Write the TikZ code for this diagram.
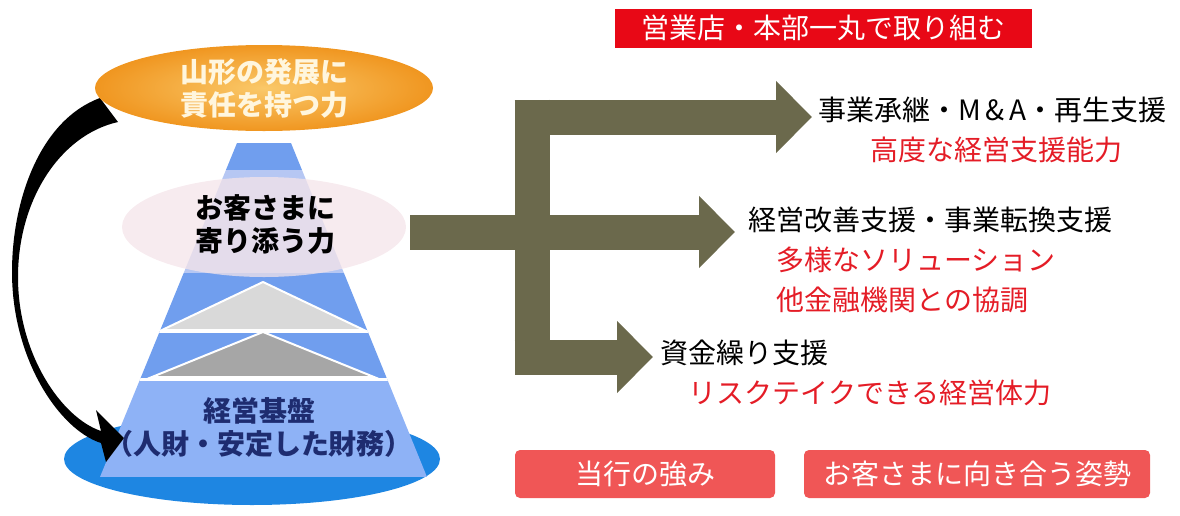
\documentclass[tikz,border=0pt]{standalone}
\usepackage{fontspec}
\setmainfont{Noto Sans CJK JP}
\usepackage{xcolor}
\usetikzlibrary{arrows.meta, positioning, shapes.geometric}
\definecolor{flowolive}{RGB}{107,105,76}
\definecolor{sunin}{RGB}{250,200,105}
\definecolor{sunout}{RGB}{240,150,32}
\definecolor{basin}{RGB}{30,134,226}
\definecolor{pyrmid}{RGB}{112,158,238}
\definecolor{pyrlight}{RGB}{182,199,243}
\definecolor{pyrbase}{RGB}{142,178,246}
\definecolor{blush}{RGB}{244,228,233}
\definecolor{navy}{RGB}{30,44,112}
\definecolor{hintred}{RGB}{228,28,38}
\definecolor{bannerred}{RGB}{232,8,22}
\definecolor{btnred}{RGB}{240,86,86}

\begin{document}
\begin{tikzpicture}[x=0.5pt, y=-0.5pt,
    jp/.style={font=\fontsize{14}{20}\selectfont, inner sep=0pt},
    lead/.style={jp, anchor=west},
    hint/.style={jp, text=hintred},
    heavy/.style={font=\fontsize{14}{16.5}\selectfont\bfseries, align=center, inner sep=0pt},
    bannerbox/.style={jp, text=white, fill=bannerred, minimum width=208.5pt, minimum height=19.5pt},
    btn/.style={jp, text=white, fill=btnred, rounded corners=2.5pt, minimum height=24pt},
    flow/.style={line width=17.5pt, flowolive, -{Triangle[length=18pt, width=35pt]}},
    trunk/.style={line width=17.5pt, flowolive, line cap=butt}]
  \useasboundingbox (0,0) rectangle (1180,515);

  % base ellipse and pyramid
  \fill[basin] (252,459) ellipse [x radius=188, y radius=46];
  \begin{scope}
    \clip (237,143) -- (291,143) -- (427,477) -- (100,477) -- cycle;
    \fill[pyrmid] (0,143) rectangle (600,170);
    \fill[pyrlight] (0,170) rectangle (600,273);
    \fill[pyrmid] (0,273) rectangle (600,378);
    \fill[pyrbase] (0,378) rectangle (600,477);
    \draw[white, line width=1.5pt] (0,331) -- (600,331) (0,379) -- (600,379);
  \end{scope}
  \filldraw[fill=black!15, draw=white, line width=1pt] (263,282) -- (364,330) -- (162,330) -- cycle;
  \filldraw[fill=black!35, draw=white, line width=1pt] (263,332) -- (374,377) -- (152,377) -- cycle;
  \fill[blush, fill opacity=0.75] (264,227) ellipse [x radius=142, y radius=50];

  % curved arrow from top to base
  \fill (100,98) .. controls (40,120) and (12,200) .. (12,272)
        .. controls (12,360) and (60,430) .. (101,443) -- (106,462) -- (124,438)
        -- (96,410) -- (101,431) .. controls (62,418) and (18,355) .. (18,277)
        .. controls (18,200) and (60,135) .. (118,122) -- cycle;

  \node[ellipse, minimum width=169pt, minimum height=43pt, inner color=sunin, outer color=sunout,
        heavy, text={rgb,255:red,255;green,246;blue,222}] (grow) at (264,88) {山形の発展に\\責任を持つ力};
  \node[heavy] (near) at (265,224) {お客さまに\\寄り添う力};
  \node[heavy, text=navy] (base) at (259,427) {経営基盤\\（人財・安定した財務）};

  % branches
  \coordinate (bartop) at (532,99.5);
  \coordinate (barbot) at (532,374.5);
  \coordinate (jtop) at (514.5,117);
  \coordinate (tiptop) at (812,117);
  \coordinate (src) at (410,232);
  \coordinate (tipmid) at (735,232);
  \coordinate (jbot) at (514.5,357);
  \coordinate (tipbot) at (653,357);
  \draw[trunk] (bartop) -- (barbot);
  \foreach \f/\t in {jtop/tiptop, src/tipmid, jbot/tipbot} \draw[flow] (\f) -- (\t);

  \node[bannerbox] (motto) at (823,28) {営業店・本部一丸で取り組む};
  \node[lead] (succ) at (818,110) {事業承継・M\,\&\,A・再生支援};
  \node[hint] (succsub) at (996,150) {高度な経営支援能力};
  \node[lead] (impr) at (748,220) {経営改善支援・事業転換支援};
  \node[hint, align=left] (imprsub) at (916,280) {多様なソリューション\\他金融機関との協調};
  \node[lead] (fund) at (660,353) {資金繰り支援};
  \node[hint] (fundsub) at (870,393) {リスクテイクできる経営体力};

  \node[btn, minimum width=130pt] (own) at (645,474) {当行の強み};
  \node[btn, minimum width=173pt] (stance) at (977,474) {お客さまに向き合う姿勢};
\end{tikzpicture}
\end{document}
